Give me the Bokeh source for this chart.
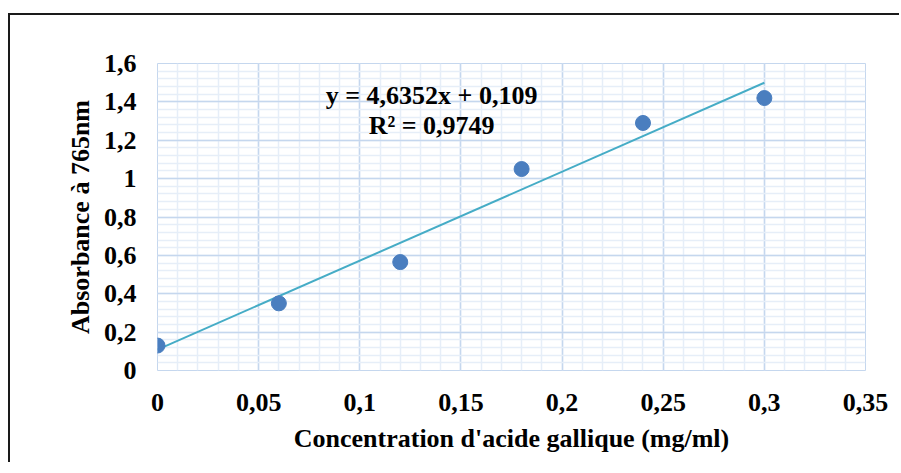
import numpy as np
from bokeh.plotting import figure
from bokeh.models import FixedTicker, Label, Range1d
from bokeh.embed import file_html
from bokeh.resources import INLINE

# Data
concentration = [0.0, 0.06, 0.12, 0.18, 0.24, 0.30]
absorbance = [0.13, 0.35, 0.565, 1.05, 1.29, 1.42]
slope = 4.6352
intercept = 0.109
equation_text = "y = 4,6352x + 0,109"
r2_text = "R² = 0,9749"

x_ticks = [0, 0.05, 0.1, 0.15, 0.2, 0.25, 0.3, 0.35]
x_tick_labels = ["0", "0,05", "0,1", "0,15", "0,2", "0,25", "0,3", "0,35"]
y_ticks = [0, 0.2, 0.4, 0.6, 0.8, 1.0, 1.2, 1.4, 1.6]
y_tick_labels = ["0", "0,2", "0,4", "0,6", "0,8", "1", "1,2", "1,4", "1,6"]
x_title = "Concentration d'acide gallique (mg/ml)"
y_title = "Absorbance à 765nm"

FONT = "Liberation Serif"
FS = "26px"
MAJOR = "#c5d7ee"
MINOR = "#e6eef8"

FW, FH = 708, 307
p = figure(
    frame_width=FW, frame_height=FH,
    min_border_left=147, min_border_top=48, min_border_right=34, min_border_bottom=92,
    output_backend="svg", toolbar_location=None,
    x_range=Range1d(0, 0.35), y_range=Range1d(0, 1.6),
    styles={"margin-left": "8px", "margin-top": "13px",
            "border-left": "2px solid #1a1a1a", "border-top": "2px solid #1a1a1a",
            "border-right": "none", "border-bottom": "none"},
)
p.outline_line_color = MAJOR
p.background_fill_color = "white"
p.border_fill_color = "white"

x_minor = [round(v, 2) for v in np.arange(0, 0.3501, 0.01)]
y_minor = [round(v, 2) for v in np.arange(0, 1.6001, 0.04)]
p.xaxis.ticker = FixedTicker(ticks=x_ticks, minor_ticks=x_minor)
p.yaxis.ticker = FixedTicker(ticks=y_ticks, minor_ticks=y_minor)
p.xaxis.major_label_overrides = {t: l for t, l in zip(x_ticks, x_tick_labels)}
p.yaxis.major_label_overrides = {t: l for t, l in zip(y_ticks, y_tick_labels)}

for ax in (p.xaxis, p.yaxis):
    ax.axis_line_color = None
    ax.major_tick_line_color = None
    ax.minor_tick_line_color = None
    ax.major_label_text_font = FONT
    ax.major_label_text_font_size = FS
    ax.major_label_text_font_style = "bold"
    ax.major_label_text_color = "black"
    ax.axis_label_text_font = FONT
    ax.axis_label_text_font_size = FS
    ax.axis_label_text_font_style = "bold"
    ax.axis_label_text_color = "black"

p.xaxis.axis_label = x_title
p.yaxis.axis_label = y_title
p.xaxis.major_label_standoff = 17
p.yaxis.major_label_standoff = 15
p.xaxis.axis_label_standoff = 10
p.yaxis.axis_label_standoff = 6

for g in (p.xgrid, p.ygrid):
    g.grid_line_color = MAJOR
    g.grid_line_width = 1.5
    g.minor_grid_line_color = MINOR
    g.minor_grid_line_width = 1.5

# Trendline from the displayed equation
tx = [concentration[0], concentration[-1]]
ty = [slope * v + intercept for v in tx]
p.line(tx, ty, line_color="#45acc6", line_width=2)

p.scatter(concentration, absorbance, size=15, fill_color="#4a7ebf", line_color="#4a7ebf")

p.add_layout(Label(x=0.1355, y=1.433, text=equation_text, text_align="center",
                   text_baseline="alphabetic", text_font=FONT, text_font_size=FS,
                   text_font_style="bold", text_color="black"))
p.add_layout(Label(x=0.1355, y=1.277, text=r2_text, text_align="center",
                   text_baseline="alphabetic", text_font=FONT, text_font_size=FS,
                   text_font_style="bold", text_color="black"))

open("out.html", "w").write(file_html(p, INLINE))
